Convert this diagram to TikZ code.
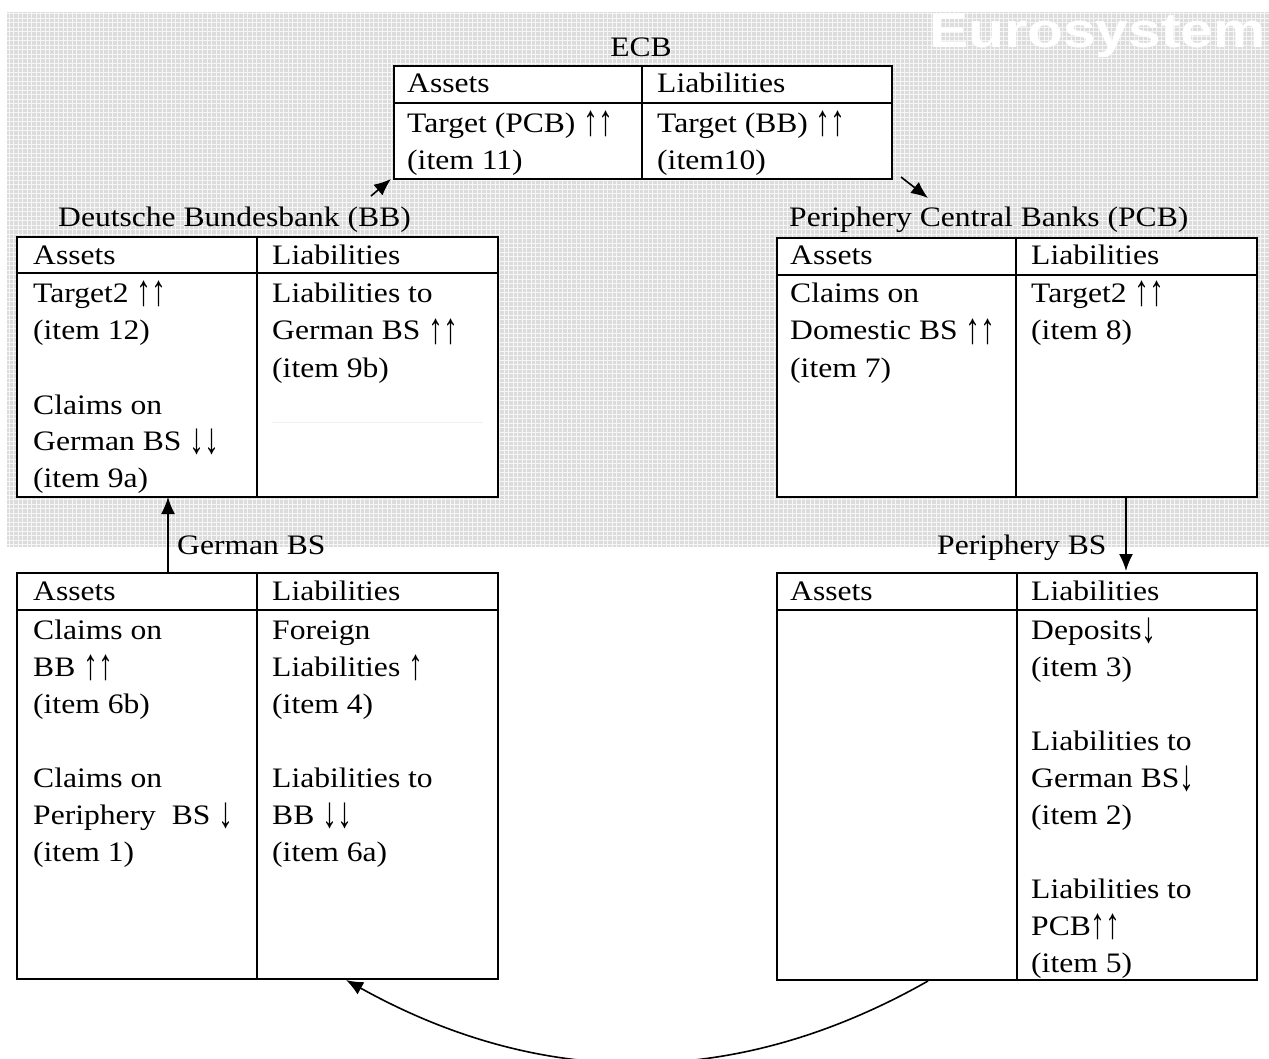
\documentclass[tikz,border=0pt]{standalone}
\usepackage{fontspec}
\usepackage{graphicx}
\setmainfont{Liberation Serif}[FakeStretch=1.12]
\newfontfamily\eurofont{Liberation Sans}[FakeStretch=1.2]
\usetikzlibrary{arrows.meta}
\newcommand\cellt[1]{\begin{tabular}[t]{@{}l@{}}#1\end{tabular}}
\newcommand\upar{\smash{\raisebox{-3pt}{\scalebox{0.95}[1.55]{↑}}}}
\newcommand\dnar{\smash{\raisebox{-3pt}{\scalebox{0.95}[1.55]{↓}}}}
\definecolor{bggray}{RGB}{220,220,220}
\tikzset{
  txt/.style={anchor=base west, inner sep=0pt, font=\fontsize{28.2}{37}\selectfont},
  tbl/.style={draw=black, line width=2.2pt, fill=white, inner sep=0pt, anchor=north west},
  rule/.style={line width=2.2pt},
  flow/.style={line width=1.6pt, -{Latex[length=17pt,width=14pt]}},
}
\begin{document}
\begin{tikzpicture}[x=1pt,y=-1pt]
\useasboundingbox (0,0) rectangle (1269,1059);
% Eurosystem background
\fill[bggray] (7,12) rectangle (1269,547);
\begin{scope}
\clip (7,12) rectangle (1269,547);
\draw[white, line width=0.7pt, step=4.5pt, opacity=0.75] (7,12) grid (1269,547);
\end{scope}
\node[anchor=base east, inner sep=0pt, text=white, font=\eurofont\bfseries\fontsize{49}{50}\selectfont] (euro) at (1266,48) {Eurosystem};

% ECB
\node[tbl, minimum width=498pt, minimum height=113pt] (ecb) at (393,65) {};
\draw[rule] (393,103) -- (891,103);
\draw[rule] (642,65) -- (642,178);
\node[txt, anchor=base] (ecbt) at (641,57) {ECB};
\node[txt] (ecba) at (407,93) {Assets};
\node[txt] (ecbl) at (657,93) {Liabilities};
\node[txt] (ecbab) at (407,133) {\cellt{Target (PCB) \upar\upar\\(item 11)}};
\node[txt] (ecblb) at (657,133) {\cellt{Target (BB) \upar\upar\\(item10)}};

% Deutsche Bundesbank
\node[tbl, minimum width=481pt, minimum height=260pt] (bb) at (16,236) {};
\draw[rule] (16,273) -- (497,273);
\draw[rule] (257,236) -- (257,496);
\draw[black!6, line width=0.8pt] (272,422) -- (483,422);
\node[txt] (bbt) at (58,227) {Deutsche Bundesbank (BB)};
\node[txt] (bba) at (33,265) {Assets};
\node[txt] (bbl) at (272,265) {Liabilities};
\node[txt] (bbab) at (33,303) {\cellt{Target2 \upar\upar\\(item 12)\\ \\Claims on\\German BS \dnar\dnar\\(item 9a)}};
\node[txt] (bblb) at (272,303) {\cellt{Liabilities to\\German BS \upar\upar\\(item 9b)}};

% Periphery Central Banks
\node[tbl, minimum width=480pt, minimum height=259pt] (pcb) at (776,237) {};
\draw[rule] (776,275) -- (1256,275);
\draw[rule] (1016,237) -- (1016,496);
\node[txt] (pcbt) at (789,227) {Periphery Central Banks (PCB)};
\node[txt] (pcba) at (790,265) {Assets};
\node[txt] (pcbl) at (1031,265) {Liabilities};
\node[txt] (pcbab) at (790,303) {\cellt{Claims on\\Domestic BS \upar\upar\\(item 7)}};
\node[txt] (pcblb) at (1031,303) {\cellt{Target2 \upar\upar\\(item 8)}};

% German BS
\node[tbl, minimum width=481pt, minimum height=406pt] (gbs) at (16,572) {};
\draw[rule] (16,610) -- (497,610);
\draw[rule] (257,572) -- (257,978);
\node[txt] (gbst) at (177,554) {German BS};
\node[txt] (gbsa) at (33,600) {Assets};
\node[txt] (gbsl) at (272,600) {Liabilities};
\node[txt] (gbsab) at (33,639) {\cellt{Claims on\\BB \upar\upar\\(item 6b)\\ \\Claims on\\Periphery\ \ BS \dnar\\(item 1)}};
\node[txt] (gbslb) at (272,639) {\cellt{Foreign\\Liabilities \upar\\(item 4)\\ \\Liabilities to\\BB \dnar\dnar\\(item 6a)}};

% Periphery BS
\node[tbl, minimum width=480pt, minimum height=407pt] (pbs) at (776,572) {};
\draw[rule] (776,610) -- (1256,610);
\draw[rule] (1017,572) -- (1017,979);
\node[txt] (pbst) at (937,554) {Periphery BS};
\node[txt] (pbsa) at (790,600) {Assets};
\node[txt] (pbsl) at (1031,600) {Liabilities};
\node[txt] (pbslb) at (1031,639) {\cellt{Deposits\dnar\\(item 3)\\ \\Liabilities to\\German BS\dnar\\(item 2)\\ \\Liabilities to\\PCB\upar\upar\\(item 5)}};

% connectors
\coordinate (bbout) at (371,196);
\coordinate (ecbin) at (391,179);
\coordinate (ecbout) at (901,177);
\coordinate (pcbin) at (928,198);
\coordinate (gbsup) at (168,572);
\coordinate (bbdown) at (168,497);
\coordinate (pcbdown) at (1126,497);
\coordinate (pbsup) at (1126,571);
\coordinate (pbsbot) at (928,981);
\coordinate (gbsbot) at (346,980);
\draw[flow] (bbout) -- (ecbin);
\draw[flow] (ecbout) -- (pcbin);
\draw[flow] (gbsup) -- (bbdown);
\draw[flow] (pcbdown) -- (pbsup);
\draw[flow] (pbsbot) .. controls (736,1090) and (542,1089) .. (gbsbot);
\end{tikzpicture}
\end{document}
